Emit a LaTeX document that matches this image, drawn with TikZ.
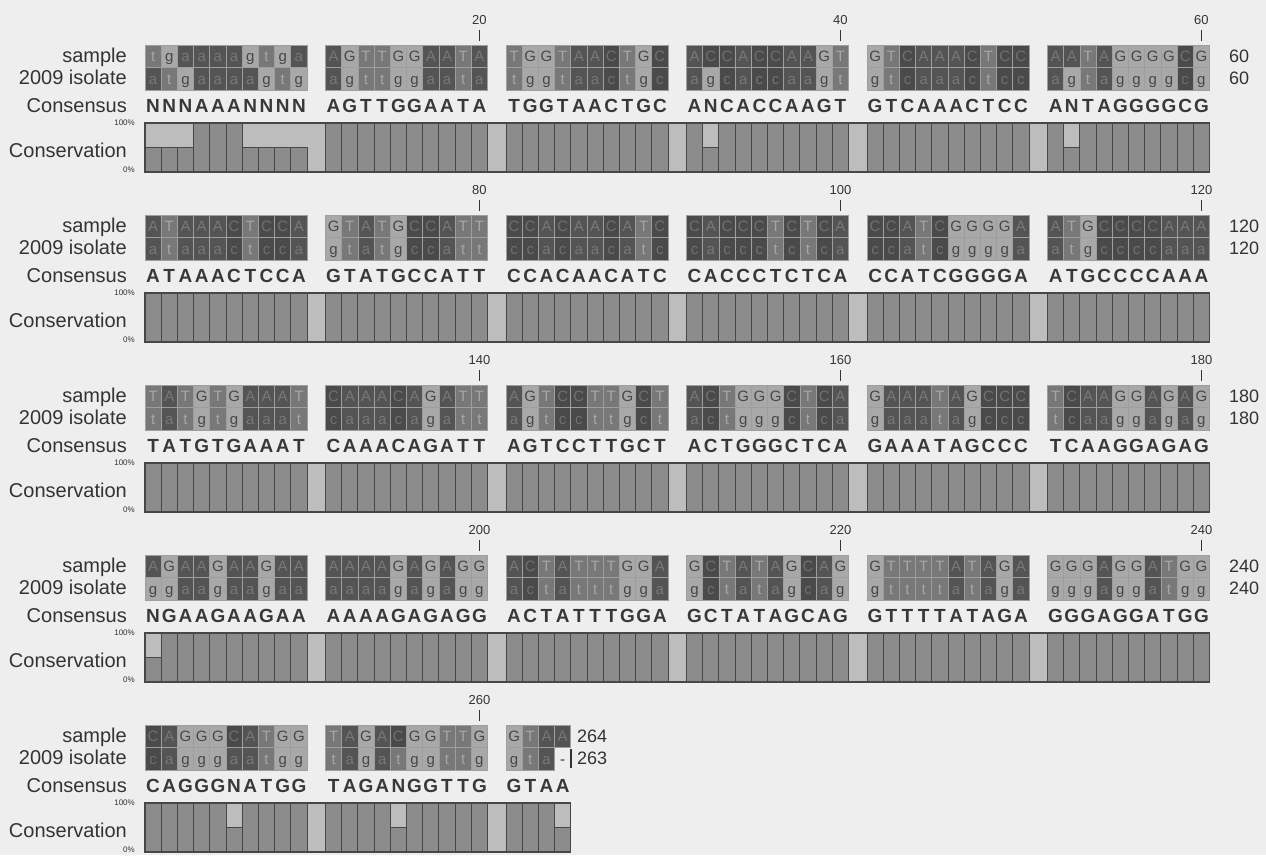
\documentclass[tikz,border=0pt]{standalone}
\usepackage{fontspec}
\setmainfont{Liberation Sans}
\setsansfont{Liberation Sans}
\definecolor{paper}{gray}{0.935}
\definecolor{lbltext}{gray}{0.20}
\definecolor{constxt}{gray}{0.22}
\definecolor{cellsep}{gray}{0.62}
\definecolor{cellA}{gray}{0.33}
\definecolor{cellC}{gray}{0.29}
\definecolor{cellT}{gray}{0.47}
\definecolor{cellG}{gray}{0.66}
\definecolor{txtA}{gray}{0.47}
\definecolor{txtC}{gray}{0.44}
\definecolor{txtT}{gray}{0.65}
\definecolor{txtG}{gray}{0.28}
\colorlet{cella}{cellA}\colorlet{cellc}{cellC}\colorlet{cellt}{cellT}\colorlet{cellg}{cellG}
\colorlet{txta}{txtA}\colorlet{txtc}{txtC}\colorlet{txtt}{txtT}\colorlet{txtg}{txtG}
\definecolor{txtx}{gray}{0.2}
\definecolor{barfill}{gray}{0.55}
\definecolor{barlight}{gray}{0.74}
\definecolor{barline}{gray}{0.28}

\newcount\cidx
\def\runrow#1#2#3#4{\cidx=0 \edef\cx{#2}\edef\cy{#3}\let\cellaction#1\cellloop#4\relax}
\def\cellloop#1{\ifx#1\relax\else\cellaction{#1}\advance\cidx by 1 \expandafter\cellloop\fi}

\def\seqcell#1{%
  \pgfmathsetmacro\bx{\cx+\the\cidx*16.2}%
  \ifx#1x%
    \node[celltext,text=txtx] at (\bx+8.1,\cy+16.8) {-};%
  \else
    \path[fill=cell#1,draw=cellsep,line width=0.8pt] (\bx,\cy) rectangle ++(16.2,22.5);%
    \node[celltext,text=txt#1] at (\bx+8.1,\cy+16.8) {#1};%
  \fi}
\def\conscell#1{%
  \pgfmathsetmacro\bx{\cx+\the\cidx*16.2+8.1}%
  \node[constext] at (\bx,\cy) {#1};}
\def\barcell#1{%
  \pgfmathsetmacro\bx{\cx+\the\cidx*16.2}%
  \ifx#1H%
    \path[barcol] (\bx,\cy+127) rectangle ++(16.2,-24.5);%
  \else
    \path[barcol] (\bx,\cy+127) rectangle ++(16.2,-49);%
  \fi}

\newcommand\grp[6]{%
  \pgfmathsetmacro\gxx{145+#1*180.5}%
  \pgfmathsetmacro\ya{#2}%
  \pgfmathsetmacro\yb{#2+22.5}%
  \pgfmathsetmacro\yc{#2+67}%
  \runrow\seqcell{\gxx}{\ya}{#3}%
  \runrow\seqcell{\gxx}{\yb}{#4}%
  \runrow\conscell{\gxx}{\yc}{#5}%
  \runrow\barcell{\gxx}{\ya}{#6}}
\newcommand\grpsame[3]{%
  \pgfmathsetmacro\gxx{145+#1*180.5}%
  \pgfmathsetmacro\ya{#2}%
  \pgfmathsetmacro\yb{#2+22.5}%
  \pgfmathsetmacro\yc{#2+67}%
  \runrow\seqcell{\gxx}{\ya}{#3}%
  \lowercase{\runrow\seqcell{\gxx}{\yb}{#3}}%
  \runrow\conscell{\gxx}{\yc}{#3}%
  \runrow\barcell{\gxx}{\ya}{FFFFFFFFFF}}

\newcommand\blockframe[2]{% #1 top, #2 bar right x
  \node[lbl] at (127,#1+17) {sample};
  \node[lbl] at (127,#1+39.5) {2009 isolate};
  \node[lbl] at (127,#1+67) {Consensus};
  \node[lbl] at (127,#1+112) {Conservation};
  \node[pct] at (135,#1+80) {100\%};
  \node[pct] at (135,#1+127) {0\%};
  \path[fill=barlight] (145,#1+78) rectangle (#2,#1+127);
}
\newcommand\barframe[2]{%
  \draw[barline,line width=1.3pt] (145,#1+78) rectangle (#2,#1+127);}
\newcommand\rightnums[4]{%
  \node[rnum] at (#2,#1+17) {#3};
  \node[rnum] at (#2,#1+39.5) {#4};}
\newcommand\tickmark[3]{%
  \node[ticklbl] at (#1,#2-25) {#3};
  \draw[tickline] (#1,#2-15) -- (#1,#2-4);}

\begin{document}
\begin{tikzpicture}[x=1pt,y=-1pt,
  celltext/.style={anchor=base,inner sep=0pt,font=\fontsize{15}{15}\selectfont},
  constext/.style={anchor=base,inner sep=0pt,text=constxt,font=\bfseries\fontsize{19}{19}\selectfont},
  lbl/.style={anchor=base east,inner sep=0pt,text=lbltext,font=\fontsize{20}{20}\selectfont},
  pct/.style={anchor=base east,inner sep=0pt,text=lbltext,font=\fontsize{8}{8}\selectfont},
  rnum/.style={anchor=base west,inner sep=0pt,text=lbltext,font=\fontsize{18}{18}\selectfont},
  ticklbl/.style={anchor=center,inner sep=0pt,text=lbltext,font=\fontsize{13}{13}\selectfont},
  tickline/.style={draw=lbltext,line width=1.2pt},
  barcol/.style={fill=barfill,draw=barline,line width=0.9pt}]
\fill[paper] (0,0) rectangle (1266,855);
\useasboundingbox (0,0) rectangle (1266,855);

% ---------- block 1 ----------
\blockframe{45}{1209.5}
\grp{0}{45}{tgaaaagtga}{atgaaaagtg}{NNNAAANNNN}{HHHFFFHHHH}
\grpsame{1}{45}{AGTTGGAATA}
\grpsame{2}{45}{TGGTAACTGC}
\grp{3}{45}{ACCACCAAGT}{agcaccaagt}{ANCACCAAGT}{FHFFFFFFFF}
\grpsame{4}{45}{GTCAAACTCC}
\grp{5}{45}{AATAGGGGCG}{agtaggggcg}{ANTAGGGGCG}{FHFFFFFFFF}
\barframe{45}{1209.5}
\rightnums{45}{1229}{60}{60}
\tickmark{479.4}{45}{20}
\tickmark{840.4}{45}{40}
\tickmark{1201.4}{45}{60}

% ---------- block 2 ----------
\blockframe{215}{1209.5}
\grpsame{0}{215}{ATAAACTCCA}
\grpsame{1}{215}{GTATGCCATT}
\grpsame{2}{215}{CCACAACATC}
\grpsame{3}{215}{CACCCTCTCA}
\grpsame{4}{215}{CCATCGGGGA}
\grpsame{5}{215}{ATGCCCCAAA}
\barframe{215}{1209.5}
\rightnums{215}{1229}{120}{120}
\tickmark{479.4}{215}{80}
\tickmark{840.4}{215}{100}
\tickmark{1201.4}{215}{120}

% ---------- block 3 ----------
\blockframe{385}{1209.5}
\grpsame{0}{385}{TATGTGAAAT}
\grpsame{1}{385}{CAAACAGATT}
\grpsame{2}{385}{AGTCCTTGCT}
\grpsame{3}{385}{ACTGGGCTCA}
\grpsame{4}{385}{GAAATAGCCC}
\grpsame{5}{385}{TCAAGGAGAG}
\barframe{385}{1209.5}
\rightnums{385}{1229}{180}{180}
\tickmark{479.4}{385}{140}
\tickmark{840.4}{385}{160}
\tickmark{1201.4}{385}{180}

% ---------- block 4 ----------
\blockframe{555}{1209.5}
\grp{0}{555}{AGAAGAAGAA}{ggaagaagaa}{NGAAGAAGAA}{HFFFFFFFFF}
\grpsame{1}{555}{AAAAGAGAGG}
\grpsame{2}{555}{ACTATTTGGA}
\grpsame{3}{555}{GCTATAGCAG}
\grpsame{4}{555}{GTTTTATAGA}
\grpsame{5}{555}{GGGAGGATGG}
\barframe{555}{1209.5}
\rightnums{555}{1229}{240}{240}
\tickmark{479.4}{555}{200}
\tickmark{840.4}{555}{220}
\tickmark{1201.4}{555}{240}

% ---------- block 5 ----------
\blockframe{725}{570.8}
\grp{0}{725}{CAGGGCATGG}{cagggaatgg}{CAGGGNATGG}{FFFFFHFFFF}
\grp{1}{725}{TAGACGGTTG}{tagatggttg}{TAGANGGTTG}{FFFFHFFFFF}
\grp{2}{725}{GTAA}{gtax}{GTAA}{FFFH}
\barframe{725}{570.8}
\draw[tickline] (571,749) -- (571,768);
\rightnums{725}{577}{264}{263}
\tickmark{479.4}{725}{260}
\end{tikzpicture}
\end{document}
